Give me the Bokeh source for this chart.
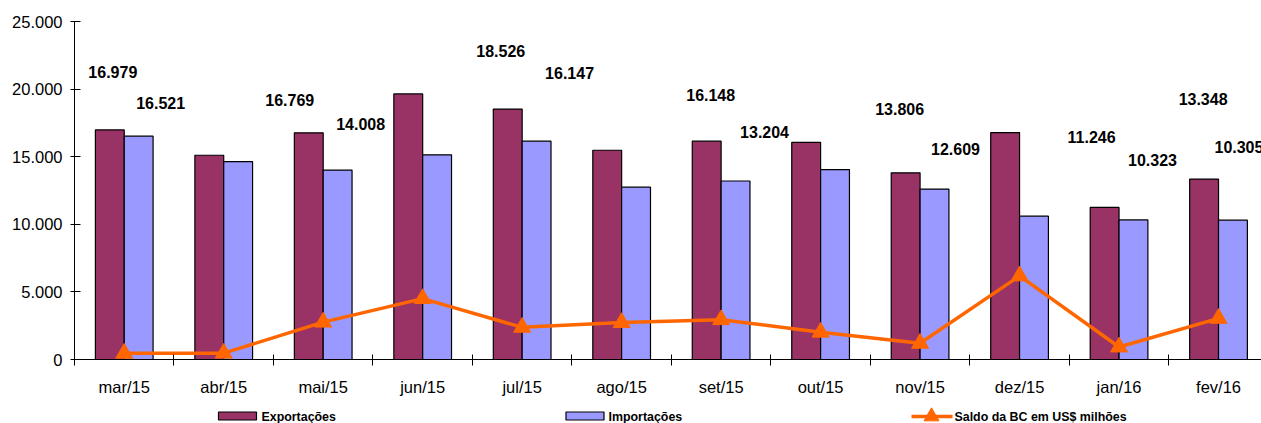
from bokeh.plotting import figure
from bokeh.layouts import column
from bokeh.models import Range1d, FixedTicker, ColumnDataSource
from bokeh.core.properties import value
from bokeh.embed import file_html
from bokeh.resources import INLINE

# Balança comercial mensal (US$ milhões)
months = ["mar/15", "abr/15", "mai/15", "jun/15", "jul/15", "ago/15",
          "set/15", "out/15", "nov/15", "dez/15", "jan/16", "fev/16"]
exportacoes = [16979, 15107, 16769, 19640, 18526, 15476,
               16148, 16066, 13806, 16783, 11246, 13348]
importacoes = [16521, 14641, 14008, 15136, 16147, 12744,
               13204, 14051, 12609, 10603, 10323, 10305]
saldo = [458, 466, 2761, 4504, 2379, 2732,
         2944, 2015, 1197, 6180, 923, 3043]

# months that carry value labels
labeled = [0, 2, 4, 6, 8, 10, 11]

y_ticks = [0, 5000, 10000, 15000, 20000, 25000]
y_tick_labels = ["0", "5.000", "10.000", "15.000", "20.000", "25.000"]

# label placement (screen pixels relative to the bar top)
exp_dx = [3, -19, -7, 4, -6, -13, -1]
exp_dy = [-58, -33, -58, -46, -64, -70, -80]
imp_dx = [22, 23, 33, 29, 21, 19, 6]
imp_dy = [-33, -46, -68, -49, -40, -60, -73]

EXP_COLOR = "#993366"
IMP_COLOR = "#9999FF"
SALDO_COLOR = "#FF6600"
FONT = "Liberation Sans"

BAR_W = 0.29
centers = [i + 0.5 for i in range(len(months))]
exp_x = [i + 0.355 for i in range(len(months))]
imp_x = [i + 0.645 for i in range(len(months))]

p = figure(width=1261, height=400, output_backend="svg", toolbar_location=None,
           x_range=Range1d(0, 11.932), y_range=Range1d(0, 25000))
p.min_border_left = 74
p.min_border_right = 0
p.min_border_top = 21
p.min_border_bottom = 41
p.outline_line_color = None
p.xgrid.visible = False
p.ygrid.visible = False
p.background_fill_color = "white"
p.border_fill_color = "white"

p.vbar(x=exp_x, top=exportacoes, width=BAR_W, fill_color=EXP_COLOR,
       line_color="black", line_width=1.2)
p.vbar(x=imp_x, top=importacoes, width=BAR_W, fill_color=IMP_COLOR,
       line_color="black", line_width=1.2)

p.line(x=centers, y=saldo, line_color=SALDO_COLOR, line_width=3.5)
p.scatter(x=centers, y=saldo, marker="triangle", size=17,
          fill_color=SALDO_COLOR, line_color=SALDO_COLOR)


def fmt(v):
    return f"{v:,}".replace(",", ".")


lab_src = ColumnDataSource(dict(
    x=[exp_x[i] for i in labeled] + [imp_x[i] for i in labeled],
    y=[exportacoes[i] for i in labeled] + [importacoes[i] for i in labeled],
    text=[fmt(exportacoes[i]) for i in labeled] + [fmt(importacoes[i]) for i in labeled],
    dx=exp_dx + imp_dx,
    dy=exp_dy + imp_dy,
))
p.text(x="x", y="y", text="text", x_offset="dx", y_offset="dy", source=lab_src,
       text_font=value(FONT), text_font_style="bold", text_font_size="16px",
       text_align="center", text_baseline="middle", text_color="black")

# axes
p.yaxis.ticker = FixedTicker(ticks=y_ticks)
p.yaxis.major_label_overrides = dict(zip(y_ticks, y_tick_labels))
p.yaxis.minor_tick_line_color = None
p.yaxis.major_tick_out = 4
p.yaxis.major_tick_in = 6
p.yaxis.major_label_standoff = 8
p.yaxis.major_label_text_font = FONT
p.yaxis.major_label_text_font_size = "16.5px"
p.yaxis.major_label_text_color = "black"
p.yaxis.axis_line_color = "black"

p.xaxis.ticker = FixedTicker(ticks=centers, minor_ticks=list(range(len(months) + 1)))
p.xaxis.major_label_overrides = dict(zip(centers, months))
p.xaxis.major_tick_in = 0
p.xaxis.major_tick_out = 0
p.xaxis.minor_tick_in = 5
p.xaxis.minor_tick_out = 6
p.xaxis.minor_tick_line_color = "black"
p.xaxis.major_label_standoff = 12
p.xaxis.major_label_text_font = FONT
p.xaxis.major_label_text_font_size = "16.5px"
p.xaxis.major_label_text_color = "black"
p.xaxis.axis_line_color = "black"

# legend strip underneath (pixel coordinates, frame aligned with the chart above)
lg = figure(width=1261, height=23, output_backend="svg", toolbar_location=None,
            x_range=Range1d(74, 1261), y_range=Range1d(23, 0),
            x_axis_location=None, y_axis_location=None)
lg.min_border_left = 74
lg.min_border_right = lg.min_border_top = lg.min_border_bottom = 0
lg.outline_line_color = None
lg.xgrid.visible = False
lg.ygrid.visible = False
lg.background_fill_color = "white"
lg.border_fill_color = "white"

LEG_Y = 16
lg.rect(x=[237, 584.5], y=[LEG_Y - 0.5] * 2, width=38, height=8,
        fill_color=[EXP_COLOR, IMP_COLOR], line_color="black", line_width=1.2)
lg.line(x=[911, 952], y=[LEG_Y, LEG_Y], line_color=SALDO_COLOR, line_width=3.5)
lg.scatter(x=[931], y=[LEG_Y], marker="triangle", size=15,
           fill_color=SALDO_COLOR, line_color=SALDO_COLOR)
lg.text(x=[261, 608, 954], y=[LEG_Y + 0.5] * 3,
        text=["Exportações", "Importações", "Saldo da BC em US$ milhões"],
        text_font=value(FONT), text_font_style="bold", text_font_size="12.4px",
        text_align="left", text_baseline="middle", text_color="black")

layout = column(p, lg, spacing=0)
open("out.html", "w").write(file_html(layout, INLINE))
